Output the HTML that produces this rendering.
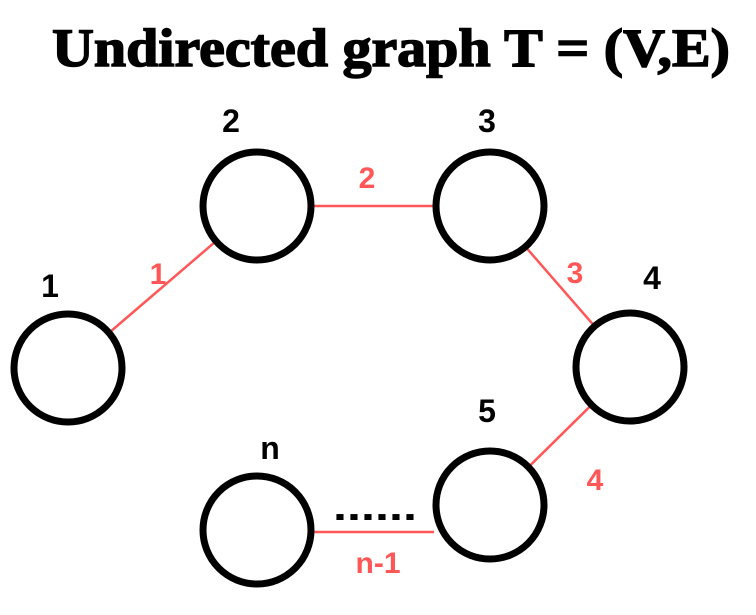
<!DOCTYPE html>
<html><head><meta charset="utf-8">
<style>
html,body{margin:0;padding:0;background:#fff;width:756px;height:615px;overflow:hidden}
svg{display:block}
</style></head>
<body>
<svg id="g" width="756" height="615" viewBox="0 0 756 615">
<text x="52" y="66" font-family="Liberation Serif, serif" font-weight="bold" font-size="54" textLength="678" lengthAdjust="spacingAndGlyphs" fill="#000" stroke="#000" stroke-width="1.5">Undirected graph T = (V,E)</text>
<text x="333" y="520" font-family="Liberation Sans, sans-serif" font-weight="bold" font-size="40" textLength="84" lengthAdjust="spacingAndGlyphs" fill="#000">......</text>
</svg>
<script>
const nodeLabels=["1","2","3","4","5","n"];
const nodeX=[68,257,490,630,490,257];
const nodeY=[368,206,206,367,505,530];
const edgeFrom=[0,1,2,3,5];
const edgeTo=[1,2,3,4,4];
const edgeLabels=["1","2","3","4","n-1"];
const R=54;
const svg=document.getElementById('g');
const NS='http://www.w3.org/2000/svg';
const labelPos=[[50,297],[231,132],[487,132],[652,289],[487,422],[270,459]];
const edgeLabelPos=[[158,284],[367,188],[575,283],[595,490],[378,573]];
edgeFrom.forEach((a,i)=>{
  const b=edgeTo[i];
  let x1=nodeX[a],y1=nodeY[a],x2=nodeX[b],y2=nodeY[b];
  if(i===4){y1=532;y2=532;}
  const dx=x2-x1,dy=y2-y1,d=Math.hypot(dx,dy);
  const l=document.createElementNS(NS,'line');
  
  
  l.setAttribute('x1',x1+dx/d*(R+2));l.setAttribute('y1',y1+dy/d*(R+2));
  l.setAttribute('x2',x2-dx/d*(R+2));l.setAttribute('y2',y2-dy/d*(R+2));
  l.setAttribute('stroke','#ff5757');l.setAttribute('stroke-width','2.5');
  svg.appendChild(l);
  const t=document.createElementNS(NS,'text');
  
  
  t.setAttribute('x',edgeLabelPos[i][0]);t.setAttribute('y',edgeLabelPos[i][1]);
  t.setAttribute('text-anchor','middle');t.setAttribute('fill','#ff5757');
  t.setAttribute('font-family','Liberation Sans, sans-serif');t.setAttribute('font-weight','bold');t.setAttribute('font-size','30');
  t.textContent=edgeLabels[i];
  svg.appendChild(t);
});
nodeLabels.forEach((n,i)=>{
  const c=document.createElementNS(NS,'circle');
  
  
  c.setAttribute('cx',nodeX[i]);c.setAttribute('cy',nodeY[i]);c.setAttribute('r',R);
  c.setAttribute('fill','none');c.setAttribute('stroke','#000');c.setAttribute('stroke-width','7');
  svg.appendChild(c);
  const t=document.createElementNS(NS,'text');
  
  
  t.setAttribute('x',labelPos[i][0]);t.setAttribute('y',labelPos[i][1]);
  t.setAttribute('text-anchor','middle');t.setAttribute('fill','#000');
  t.setAttribute('font-family','Liberation Sans Narrow, Liberation Sans, sans-serif');t.setAttribute('font-weight','bold');t.setAttribute('font-size','32');
  t.textContent=n;
  svg.appendChild(t);
});
</script>
</body></html>
